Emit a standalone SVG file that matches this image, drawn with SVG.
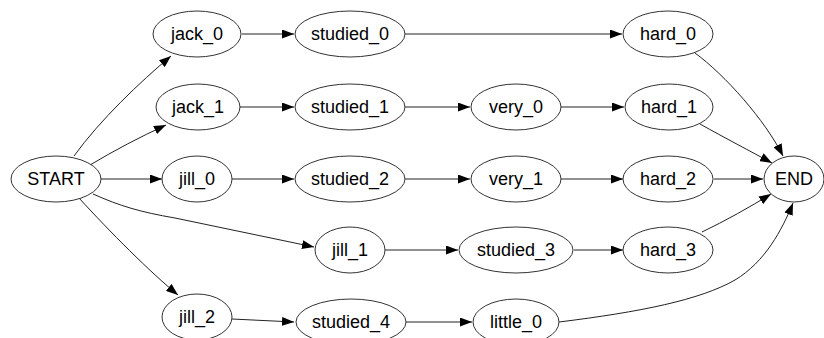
<svg xmlns="http://www.w3.org/2000/svg" width="824" height="338" viewBox="0 0 824 338">
<style>
.n ellipse{fill:#fff;stroke:#333;stroke-width:1}
.n text{font-family:"Liberation Sans",Arial,sans-serif;font-size:18px;fill:#000;text-anchor:middle;dominant-baseline:central}
#edges path{fill:none;stroke:#222;stroke-width:1;marker-end:url(#arr)}
</style>
<defs>
<marker id="arr" markerWidth="12" markerHeight="9" refX="12" refY="4.5" orient="auto" markerUnits="userSpaceOnUse">
<path d="M0,0 L12,4.5 L0,9 Z" fill="#000"/>
</marker>
</defs>
<rect width="824" height="338" fill="#fff"/>
<g id="edges">
<path d="M74,156 C100,120 140,82 171,56"/>
<path d="M90,165 C115,150 140,137 166,125"/>
<path d="M101,179 L162,179"/>
<path d="M93,194 C120,206 140,212 175,218 L314,247"/>
<path d="M79,198 C110,232 150,272 178,295"/>
<path d="M242,34 L294,34"/>
<path d="M240,107 L294,107"/>
<path d="M232,179 L294,179"/>
<path d="M232,319 L294,322"/>
<path d="M405,34 L622,34"/>
<path d="M405,107 L470,107"/>
<path d="M405,179 L470,179"/>
<path d="M385,250 L458,250"/>
<path d="M406,322 L472,322"/>
<path d="M561,107 L624,107"/>
<path d="M561,179 L623,179"/>
<path d="M574,250 L623,250"/>
<path d="M695,53 C725,75 765,120 783,156"/>
<path d="M700,124 C725,138 750,151 772,163"/>
<path d="M714,179 L763,179"/>
<path d="M702,232 C725,221 750,207 771,194"/>
<path d="M559,322 C640,312 700,300 735,280 C765,262 782,230 793,203"/>
</g>
<g id="START" class="n"><ellipse cx="56" cy="179" rx="45" ry="23"/><text x="56" y="179">START</text></g>
<g id="jack_0" class="n"><ellipse cx="197" cy="34" rx="44" ry="23"/><text x="197" y="34">jack_0</text></g>
<g id="jack_1" class="n"><ellipse cx="198" cy="107" rx="42" ry="23"/><text x="198" y="107">jack_1</text></g>
<g id="jill_0" class="n"><ellipse cx="197" cy="179" rx="35" ry="23"/><text x="197" y="179">jill_0</text></g>
<g id="jill_1" class="n"><ellipse cx="350" cy="250" rx="35" ry="23"/><text x="350" y="250">jill_1</text></g>
<g id="jill_2" class="n"><ellipse cx="197" cy="317" rx="35" ry="23"/><text x="197" y="317">jill_2</text></g>
<g id="studied_0" class="n"><ellipse cx="350" cy="34" rx="55" ry="23"/><text x="350" y="34">studied_0</text></g>
<g id="studied_1" class="n"><ellipse cx="350" cy="107" rx="55" ry="23"/><text x="350" y="107">studied_1</text></g>
<g id="studied_2" class="n"><ellipse cx="350" cy="179" rx="55" ry="23"/><text x="350" y="179">studied_2</text></g>
<g id="studied_3" class="n"><ellipse cx="516" cy="250" rx="57" ry="23"/><text x="516" y="250">studied_3</text></g>
<g id="studied_4" class="n"><ellipse cx="351" cy="322" rx="55" ry="23"/><text x="351" y="322">studied_4</text></g>
<g id="very_0" class="n"><ellipse cx="516" cy="107" rx="45" ry="23"/><text x="516" y="107">very_0</text></g>
<g id="very_1" class="n"><ellipse cx="516" cy="179" rx="45" ry="23"/><text x="516" y="179">very_1</text></g>
<g id="little_0" class="n"><ellipse cx="516" cy="322" rx="43" ry="23"/><text x="516" y="322">little_0</text></g>
<g id="hard_0" class="n"><ellipse cx="668" cy="34" rx="45" ry="23"/><text x="668" y="34">hard_0</text></g>
<g id="hard_1" class="n"><ellipse cx="669" cy="107" rx="44" ry="23"/><text x="669" y="107">hard_1</text></g>
<g id="hard_2" class="n"><ellipse cx="668" cy="179" rx="45" ry="23"/><text x="668" y="179">hard_2</text></g>
<g id="hard_3" class="n"><ellipse cx="668" cy="250" rx="45" ry="23"/><text x="668" y="250">hard_3</text></g>
<g id="END" class="n"><ellipse cx="794" cy="179" rx="30" ry="23"/><text x="794" y="179">END</text></g>
</svg>
